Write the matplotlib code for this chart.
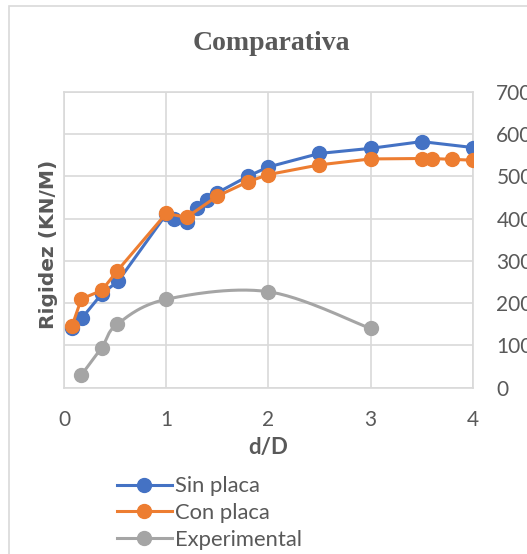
import numpy as np
import matplotlib
matplotlib.use("Agg")
import matplotlib.pyplot as plt
from matplotlib.patches import Rectangle

# datos
x_sin = [0.08, 0.18, 0.37, 0.53, 1.0, 1.08, 1.2, 1.3, 1.4, 1.5, 1.8, 2.0, 2.5, 3.0, 3.5, 4.0]
y_sin = [140, 166, 222, 252, 410, 400, 393, 424, 444, 461, 500, 522, 554, 566, 582, 568]

x_con = [0.08, 0.17, 0.37, 0.52, 1.0, 1.2, 1.5, 1.8, 2.0, 2.5, 3.0, 3.5, 3.6, 3.8, 4.0]
y_con = [147, 210, 230, 276, 412, 403, 453, 487, 504, 527, 541, 542, 542, 540, 538]

x_exp = [0.17, 0.37, 0.52, 1.0, 2.0, 3.0]
y_exp = [30, 95, 150, 209, 227, 140]

xticks = [0, 1, 2, 3, 4]
yticks = [0, 100, 200, 300, 400, 500, 600, 700]

AZUL = '#4472C4'
NARANJA = '#ED7D31'
GRIS = '#A5A5A5'
TEXTO = '#595959'


def suavizar(xs, ys, n=30):
    # curva suavizada tipo Excel (bezier con puntos de control de los vecinos)
    p = np.column_stack([xs, ys]).astype(float)
    p = np.vstack([p[0], p, p[-1]])
    t = np.linspace(0, 1, n)[:, None]
    tramos = []
    for i in range(1, len(p) - 2):
        p0, p3 = p[i], p[i + 1]
        p1 = p0 + (p[i + 1] - p[i - 1]) / 6
        p2 = p3 - (p[i + 2] - p[i]) / 6
        b = (1 - t) ** 3 * p0 + 3 * (1 - t) ** 2 * t * p1 + 3 * (1 - t) * t ** 2 * p2 + t ** 3 * p3
        tramos.append(b)
    c = np.vstack(tramos)
    return c[:, 0], c[:, 1]


plt.rcParams['font.family'] = ['Lato', 'DejaVu Sans']

fig = plt.figure(figsize=(5.27, 5.54), dpi=100)
ax = fig.add_axes([64 / 527, 1 - 387.7 / 554, (472.7 - 64) / 527, (387.7 - 91.7) / 554])

# borde del area del grafico
fig.patches.append(Rectangle((9 / 527, -0.1), 1.2, 1 - 6 / 554 + 0.1, transform=fig.transFigure,
                             fill=False, edgecolor='#D9D9D9', linewidth=1.2))

lw = 2.2
ms = 10
ax.plot(x_sin, y_sin, color=AZUL, lw=lw, marker='o', ms=ms, label='Sin placa', zorder=3)
ax.plot(x_con, y_con, color=NARANJA, lw=lw, marker='o', ms=ms, label='Con placa', zorder=4)
xs, ys = suavizar(x_exp, y_exp)
ax.plot(xs, ys, color=GRIS, lw=lw, zorder=2)
ax.plot(x_exp, y_exp, color=GRIS, lw=0, marker='o', ms=ms, zorder=2)
ax.plot([], [], color=GRIS, lw=lw, marker='o', ms=ms, label='Experimental')

ax.set_xlim(0, 4)
ax.set_ylim(0, 700)
ax.set_xticks(xticks)
ax.set_yticks(yticks)
ax.yaxis.tick_right()
ax.tick_params(length=0, labelsize=15, colors=TEXTO)
ax.tick_params(axis='x', pad=16)
ax.tick_params(axis='y', pad=17)
ax.grid(True, color='#D9D9D9', lw=1.2)
ax.set_axisbelow(True)
for s in ax.spines.values():
    s.set_color('#D9D9D9')
    s.set_linewidth(1.2)

ax.set_xlabel('d/D', fontsize=16, fontweight='bold', color=TEXTO, labelpad=5)
fig.text(49 / 527, 1 - 244 / 554, 'Rigidez (KN/M)', rotation=90, fontsize=14.5, fontweight='bold',
         color=TEXTO, ha='center', va='center', family='DejaVu Sans')
fig.text(271 / 527, 1 - 44 / 554, 'Comparativa', fontsize=20, fontweight='bold', color=TEXTO,
         family='Liberation Serif', ha='center', va='center')

leg = fig.legend(loc='center left', bbox_to_anchor=(108 / 527, 1 - 513 / 554), frameon=False,
                 fontsize=15.8, labelcolor=TEXTO, handlelength=2.5, handletextpad=0.15,
                 labelspacing=0.3, borderaxespad=0)

fig.savefig('out.png', dpi=100)
